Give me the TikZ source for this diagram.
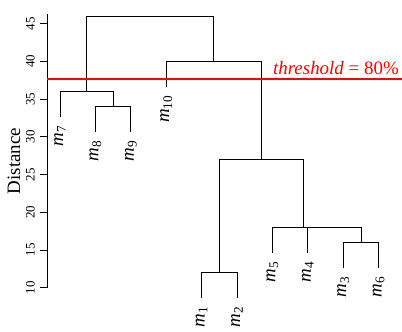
\documentclass[tikz,border=0pt]{standalone}
\usepackage{fontspec}
\setmainfont{Liberation Serif}

\newcommand{\mlab}[1]{\textit{m}\textsubscript{#1}}

\begin{document}
\begin{tikzpicture}[
        x=1bp, y=7.54bp,
        tree/.style={draw=black, line width=0.8bp},
        thr/.style={draw=red, line width=1.5bp},
        leaf/.style={rotate=90, anchor=east, inner xsep=8bp, inner ysep=1bp, font=\fontsize{19}{19}\selectfont},
        ticklab/.style={rotate=90, anchor=south, inner sep=2bp, font=\fontsize{13}{13}\selectfont},
    ]
    \useasboundingbox (0bp,0bp) rectangle (402bp,332bp);
    \begin{scope}[yshift=-31.1bp]
        %Axis
        \coordinate (ax0) at (47,10);
        \coordinate (ax1) at (47,46.3);
        \draw[tree] (ax0) -- (ax1);
        \foreach \d in {10,15,...,45} {
            \coordinate (tk\d) at (47,\d);
            \draw[tree] (tk\d) -- +(-7,0);
            \node[ticklab] (lab\d) at (37,\d) {\d};
        }
        \node[rotate=90, font=\fontsize{19}{19}\selectfont] (ylab) at (14,26.8) {Distance};

        %Tips
        \coordinate (t7) at (60,32.6);
        \coordinate (t8) at (95.4,30.6);
        \coordinate (t9) at (130.8,30.6);
        \coordinate (t10) at (166.2,36.6);
        \coordinate (t1) at (201.6,8.6);
        \coordinate (t2) at (237,8.6);
        \coordinate (t5) at (272.4,14.6);
        \coordinate (t4) at (307.8,14.6);
        \coordinate (t3) at (343.2,12.6);
        \coordinate (t6) at (378.6,12.6);

        %Merges
        \coordinate (c89) at (113.1,34);
        \coordinate (c789) at (86.55,36);
        \coordinate (c12) at (219.3,12);
        \coordinate (c36) at (360.9,16);
        \coordinate (c436) at (334.35,18);
        \coordinate (c5436) at (303.4,18);
        \coordinate (c12r) at (261.35,27);
        \coordinate (c10r) at (213.8,40);
        \coordinate (ctop) at (150.2,46);

        %Nodes
        \foreach \i in {1,...,10} {
            \node[leaf] (m\i) at (t\i) {\mlab{\i}};
        }

        %Lines
        \draw[tree] (t8) |- (c89) -| (t9);
        \draw[tree] (t7) |- (c789) -| (c89);
        \draw[tree] (t1) |- (c12) -| (t2);
        \draw[tree] (t3) |- (c36) -| (t6);
        \draw[tree] (t4) |- (c436) -| (c36);
        \draw[tree] (t5) |- (c5436) -| (c436);
        \draw[tree] (c12) |- (c12r) -| (c5436);
        \draw[tree] (t10) |- (c10r) -| (c12r);
        \draw[tree] (c789) |- (ctop) -| (c10r);

        % threshold
        \coordinate (thrL) at (47,37.7);
        \coordinate (thrR) at (402,37.7);
        \draw[thr] (thrL) -- (thrR);
        \node[anchor=base east, inner sep=0pt, text=red, font=\fontsize{19}{19}\selectfont] (thrlab) at (399,38.32) {\textit{threshold} = 80\%};
    \end{scope}
\end{tikzpicture}
\end{document}
